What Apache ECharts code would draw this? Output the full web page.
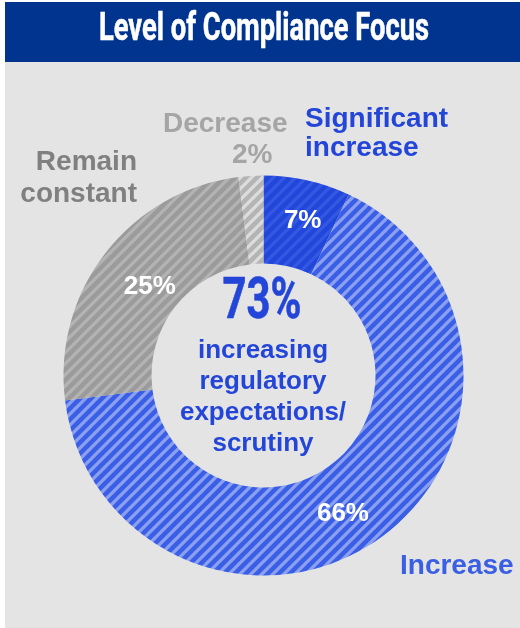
<!DOCTYPE html>
<html>
<head>
<meta charset="utf-8">
<script src="https://cdn.jsdelivr.net/npm/echarts@6/dist/echarts.min.js"></script>
<style>
html,body{margin:0;padding:0;background:#ffffff;}
#chart{width:520px;height:628px;}
</style>
</head>
<body>
<div id="chart"></div>
<script>
const titleText = 'Level of Compliance Focus';
const categories = ['Significant increase', 'Increase', 'Remain constant', 'Decrease'];
const values = [7, 66, 25, 2];
const centerValue = '73%';
const centerLines = ['increasing', 'regulatory', 'expectations/', 'scrutiny'];

const BLUE_DARK = '#2446D8';
const BLUE = '#3A5FE3';

function stripeTile(base, stripe, P, w) {
  const c = document.createElement('canvas');
  c.width = P; c.height = P;
  const ctx = c.getContext('2d');
  ctx.fillStyle = base; ctx.fillRect(0, 0, P, P);
  ctx.strokeStyle = stripe; ctx.lineWidth = w;
  ctx.beginPath();
  for (const o of [-P, 0, P]) { ctx.moveTo(o - 1, P + 1); ctx.lineTo(o + P + 1, -1); }
  ctx.stroke();
  return c;
}
const fills = [
  stripeTile('#2046DA', '#3558E2', 11, 3.3),
  stripeTile('#3A5FE6', '#8CA0F0', 11, 3.3),
  stripeTile('#9B9B9B', '#B3B3B3', 11, 3.3),
  stripeTile('#B4B4B4', '#DCDCDC', 11, 3.3)
];
function fitScale(text, font, target) {
  const ctx = document.createElement('canvas').getContext('2d');
  ctx.font = font;
  return target / ctx.measureText(text).width;
}
const titleFont = 'bold 39px Roboto';
const bigFont = 'bold 57px Roboto';
const titleScale = fitScale(titleText, titleFont, 330);
const bigScale = fitScale(centerValue, bigFont, 79);

// per-slice label nudges
const labelTweaks = [
  {padding: [0, 0, 0, 9]},
  {formatter: '\n{c}%', lineHeight: 20, padding: [0, 28, 0, 0]},
  {formatter: '\n{c}%', lineHeight: 18, padding: [0, 0, 0, 24]},
  {show: false}
];

const chart = echarts.init(document.getElementById('chart'), null, {renderer: 'canvas'});
const F = '"Liberation Sans", Arial, sans-serif';
function txt(text, x, y, align, color, size) {
  return {type: 'text', x: x, y: y, z: 10, silent: true,
    style: {text: text, x: 0, y: 0, align: align, verticalAlign: 'middle',
      font: 'bold ' + (size || 28) + 'px ' + F, fill: color}};
}
chart.setOption({
  animation: false,
  graphic: [
    {type: 'rect', z: -10, silent: true, shape: {x: 5, y: 62, width: 515, height: 566}, style: {fill: '#E4E4E4'}},
    {type: 'rect', z: -10, silent: true, shape: {x: 5, y: 2, width: 515, height: 60}, style: {fill: '#00348F'}},
    {type: 'text', x: 264, y: 30, scaleX: titleScale, silent: true,
      style: {text: titleText, x: 0, y: 0, align: 'center', verticalAlign: 'middle', font: titleFont, fill: '#ffffff', stroke: '#ffffff', lineWidth: 0.6}},
    {type: 'text', x: 262, y: 304, scaleX: bigScale, silent: true, z: 10,
      style: {text: centerValue, x: 0, y: 0, align: 'center', verticalAlign: 'middle', font: bigFont, fill: BLUE_DARK, stroke: BLUE_DARK, lineWidth: 0.6}},
    {type: 'text', x: 263, y: 397, silent: true, z: 10,
      style: {text: centerLines.join('\n'), x: 0, y: 0, align: 'center', verticalAlign: 'middle', lineHeight: 31, font: 'bold 26px ' + F, fill: BLUE_DARK}},
    txt(categories[0].split(' ')[0], 305, 119, 'left', BLUE_DARK),
    txt(categories[0].split(' ')[1], 305, 148, 'left', BLUE_DARK),
    txt(categories[3], 163, 124, 'left', '#A5A5A5'),
    txt(values[3] + '%', 232, 155, 'left', '#A5A5A5'),
    txt(categories[2].split(' ')[0], 137, 162, 'right', '#808080'),
    txt(categories[2].split(' ')[1], 137, 194, 'right', '#808080'),
    txt(categories[1], 400, 566, 'left', BLUE)
  ],
  series: [{
    type: 'pie',
    silent: true,
    center: [263.5, 375.5],
    radius: [112, 200],
    startAngle: 90,
    clockwise: true,
    avoidLabelOverlap: false,
    labelLine: {show: false},
    emphasis: {disabled: true},
    itemStyle: {borderWidth: 0},
    label: {show: true, position: 'inside', formatter: '{c}%', color: '#ffffff',
      fontFamily: F, fontWeight: 'bold', fontSize: 26},
    data: categories.map((name, i) => ({
      name: name, value: values[i],
      itemStyle: {color: {image: fills[i], repeat: 'repeat'}},
      label: labelTweaks[i]
    }))
  }]
});
</script>
</body>
</html>
